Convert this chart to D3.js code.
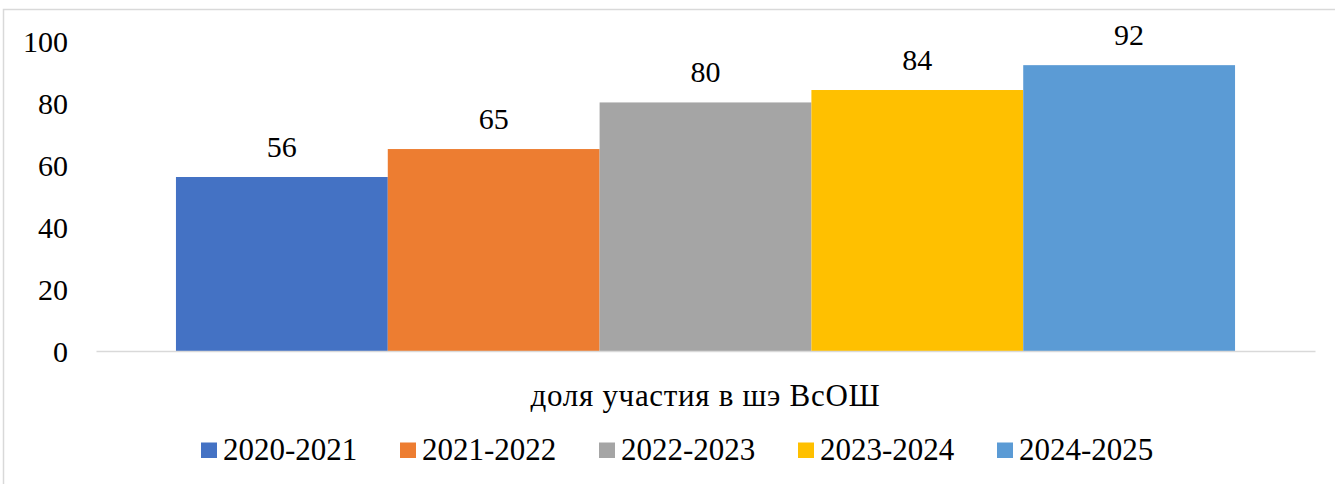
<!DOCTYPE html>
<html>
<head>
<meta charset="utf-8">
<script src="https://cdn.jsdelivr.net/npm/d3@7/dist/d3.min.js"></script>
<style>
  html, body { margin: 0; padding: 0; background: #fff; }
  svg { display: block; }
  svg text { font-family: 'Liberation Serif', 'Times New Roman', Times, 'DejaVu Serif', serif !important; fill: #000; }
</style>
</head>
<body>
<svg id="chart" width="1335" height="484"></svg>
<script>
// Data
const categories = ["доля участия в шэ ВсОШ"];
const seriesNames = ["2020-2021", "2021-2022", "2022-2023", "2023-2024", "2024-2025"];
const seriesValues = [56, 65, 80, 84, 92];
const seriesColors = ["#4472C4", "#ED7D31", "#A5A5A5", "#FFC000", "#5B9BD5"];
const yTicks = [0, 20, 40, 60, 80, 100];

const FONT = "'Liberation Serif', 'Times New Roman', Times, 'DejaVu Serif', serif";

const svg = d3.select("#chart");
const W = 1335, H = 484;

// Chart frame
svg.append("rect")
  .attr("x", 3.5).attr("y", 9.5)
  .attr("width", W + 20).attr("height", H + 20)
  .attr("fill", "#fff")
  .attr("stroke", "#d9d9d9").attr("stroke-width", 1.5);

const plot = { left: 96, right: 1315, top: 40.3, bottom: 351 };

const y = d3.scaleLinear().domain([0, 100]).range([plot.bottom, plot.top]);
const x0 = d3.scaleBand().domain(categories)
  .range([plot.left, plot.right])
  .paddingInner(0).paddingOuter(0.0755);
const x1 = d3.scaleBand().domain(seriesNames)
  .range([0, x0.bandwidth()]).padding(0);

const rows = seriesNames.map((s, i) => ({ name: s, value: seriesValues[i], color: seriesColors[i] }));

// Y axis labels (no axis line, no gridlines)
const yAxis = d3.axisLeft(y).tickValues(yTicks).tickSize(0).tickPadding(0);
const yg = svg.append("g").attr("transform", `translate(68,0)`).call(yAxis)
  .attr("font-family", null).attr("font-size", null);
yg.select(".domain").remove();
yg.selectAll("text")
  .style("font-family", FONT)
  .style("font-size", "30px")
  .attr("fill", "#000")
  .attr("dy", "0.36em");

// Bars
const g = svg.append("g").attr("transform", `translate(${x0(categories[0])},0)`);
g.selectAll("rect.bar").data(rows).enter().append("rect")
  .attr("class", "bar")
  .attr("x", d => x1(d.name))
  .attr("y", d => y(d.value))
  .attr("width", x1.bandwidth())
  .attr("height", d => y(0) - y(d.value))
  .attr("fill", d => d.color);

// Value labels
g.selectAll("text.val").data(rows).enter().append("text")
  .attr("class", "val")
  .attr("x", d => x1(d.name) + x1.bandwidth() / 2)
  .attr("y", d => y(d.value) - 20)
  .attr("text-anchor", "middle")
  .style("font-family", FONT)
  .style("font-size", "30px")
  .text(d => d.value);

// Category axis baseline and label
const xAxis = d3.axisBottom(x0).tickSize(0).tickPadding(0);
const xg = svg.append("g").attr("transform", `translate(0,${y(0)})`).call(xAxis)
  .attr("font-family", null).attr("font-size", null);
xg.select(".domain").attr("stroke", "#d9d9d9").attr("stroke-width", 1.5);
xg.selectAll("text")
  .style("font-family", FONT)
  .style("font-size", "31px")
  .style("letter-spacing", "0.7px")
  .attr("fill", "#000")
  .attr("dy", 0)
  .attr("y", 55);

// Legend
const legend = svg.append("g");
const item = legend.selectAll("g").data(rows).enter().append("g")
  .attr("transform", (d, i) => `translate(${201 + i * 199},0)`);
item.append("rect")
  .attr("x", 0).attr("y", 442.5)
  .attr("width", 16).attr("height", 15.5)
  .attr("fill", d => d.color);
item.append("text")
  .attr("x", 22).attr("y", 460)
  .style("font-family", FONT)
  .style("font-size", "31px")
  .text(d => d.name);
</script>
</body>
</html>
